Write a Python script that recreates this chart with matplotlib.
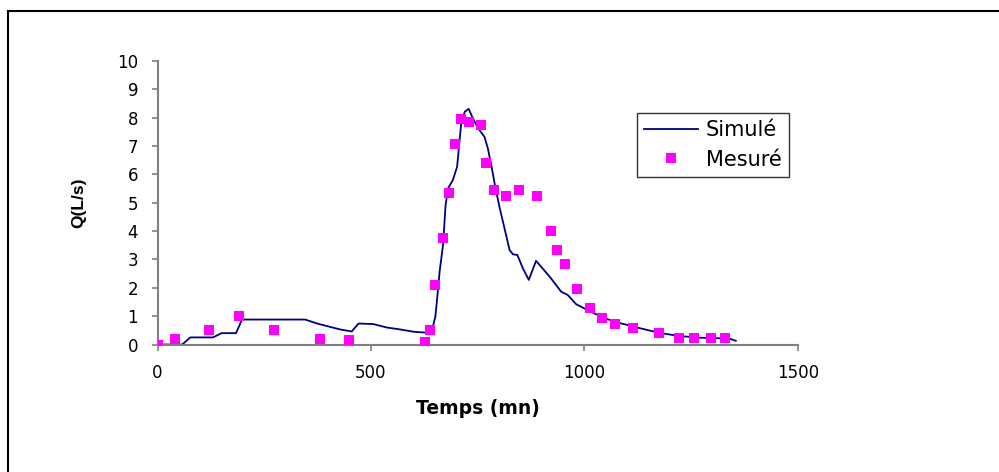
import matplotlib
matplotlib.use('Agg')
import matplotlib.pyplot as plt
from matplotlib.patches import Rectangle

plt.rcParams['font.family'] = ['DejaVu Sans']

# Débit simulé (courbe)
t_sim = [0, 58, 77, 130, 150, 184, 198, 346, 374, 428, 455, 471, 506, 537, 569,
         600, 628, 643, 651, 657, 661, 669, 675, 681, 692, 702, 706, 712, 720,
         729, 739, 751, 766, 774, 782, 792, 802, 813, 825, 833, 843, 856, 870,
         887, 899, 919, 946, 961, 981, 1012, 1047, 1082, 1129, 1176, 1222,
         1269, 1316, 1340, 1355]
q_sim = [0, 0, 0.25, 0.25, 0.4, 0.4, 0.88, 0.88, 0.74, 0.53, 0.46, 0.74, 0.72,
         0.6, 0.53, 0.45, 0.42, 0.5, 0.98, 1.9, 2.57, 3.51, 4.92, 5.51, 5.8,
         6.27, 6.92, 7.86, 8.21, 8.31, 7.98, 7.63, 7.33, 6.92, 6.33, 5.51, 4.8,
         4.1, 3.33, 3.18, 3.16, 2.69, 2.28, 2.95, 2.74, 2.39, 1.86, 1.75, 1.42,
         1.18, 0.93, 0.76, 0.58, 0.41, 0.3, 0.24, 0.22, 0.21, 0.13]

# Débit mesuré (points)
t_mes = [0, 42, 120, 192, 274, 380, 448, 626, 638, 651, 669, 682, 696, 710,
         730, 757, 770, 788, 816, 848, 889, 921, 936, 954, 982, 1013, 1041,
         1073, 1114, 1176, 1223, 1258, 1297, 1330]
q_mes = [0, 0.2, 0.5, 1.0, 0.5, 0.2, 0.15, 0.1, 0.5, 2.1, 3.75, 5.36, 7.06,
         7.95, 7.86, 7.74, 6.41, 5.45, 5.25, 5.45, 5.25, 4.01, 3.32, 2.84,
         1.95, 1.3, 0.92, 0.71, 0.59, 0.4, 0.24, 0.24, 0.24, 0.24]

fig = plt.figure(figsize=(9.99, 4.72), dpi=100)
ax = fig.add_axes([157.5 / 999, 1 - 344.5 / 472, 640.2 / 999, 283.5 / 472])

ax.plot(t_sim, q_sim, color='#000080', linewidth=1.3, label='Simulé', zorder=2)
ax.plot(t_mes, q_mes, 's', color='#FF00FF', markersize=7, markeredgewidth=0,
        linestyle='none', label='Mesuré', zorder=3)

ax.set_xlim(0, 1500)
ax.set_ylim(0, 10)
ax.set_xticks([0, 500, 1000, 1500])
ax.set_yticks(range(0, 11))

for s in ['top', 'right']:
    ax.spines[s].set_visible(False)
for s in ['left', 'bottom']:
    ax.spines[s].set_color('#808080')
    ax.spines[s].set_linewidth(1.5)
ax.tick_params(direction='out', length=4, width=1.2, color='#808080',
               labelsize=12)
ax.tick_params(axis='x', pad=10)
ax.tick_params(axis='y', pad=10)

ax.set_xlabel('Temps (mn)', fontsize=13.5, fontweight='bold', labelpad=12)
ax.set_ylabel('Q(L/s)', fontsize=12.5, fontweight='bold', labelpad=22,
              family='Liberation Sans')

leg = ax.legend(loc='upper left', bbox_to_anchor=(637 / 999, 1 - 113 / 472),
                bbox_transform=fig.transFigure, fontsize=15, numpoints=1,
                frameon=True, fancybox=False, handlelength=2.6,
                handletextpad=0.35, labelspacing=0.45, borderpad=0.35,
                borderaxespad=0)
leg.get_frame().set_edgecolor('black')
leg.get_frame().set_linewidth(1.0)

# cadre extérieur
fig.add_artist(Rectangle((8 / 999, -0.1), 1.2, 1 - 11 / 472 + 0.1,
                         transform=fig.transFigure, fill=False,
                         edgecolor='black', linewidth=1.5))

fig.savefig('out.png', dpi=100)
